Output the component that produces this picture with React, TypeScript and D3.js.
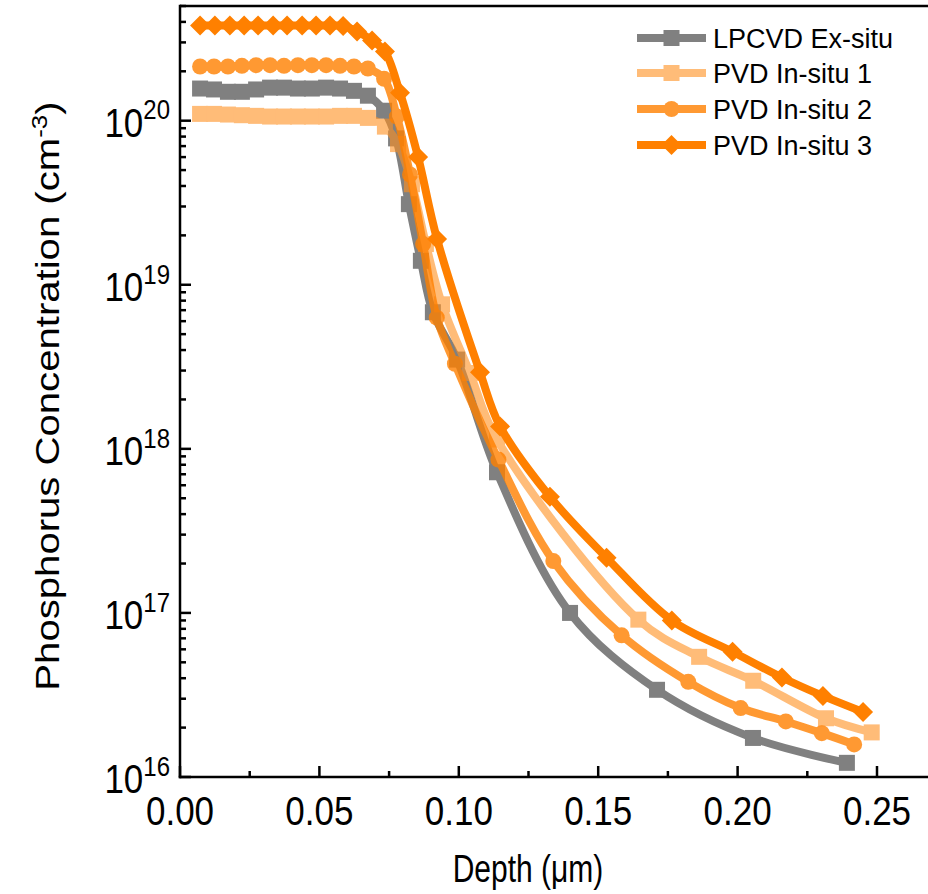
import React from 'react';
import * as d3 from 'd3';

// ---------- data (depth in µm, concentration in cm^-3) ----------
const lpcvdDepth = [0.0072, 0.0122, 0.0172, 0.0222, 0.0273, 0.0323, 0.0373, 0.0423, 0.0473, 0.0524, 0.0574, 0.0624, 0.0674, 0.0732, 0.0775, 0.0821, 0.0864, 0.0907, 0.0994, 0.1137, 0.1399, 0.1711, 0.2055, 0.2392];
const lpcvdConc = [1.57e20, 1.55e20, 1.5e20, 1.5e20, 1.55e20, 1.59e20, 1.59e20, 1.57e20, 1.57e20, 1.59e20, 1.57e20, 1.52e20, 1.42e20, 1.15e20, 7.8e19, 3.1e19, 1.4e19, 6.8e18, 3.5e18, 7.2e17, 1.0e17, 3.4e16, 1.73e16, 1.22e16];

const pvd1Depth = [0.0072, 0.0122, 0.0172, 0.0222, 0.0273, 0.0323, 0.0373, 0.0423, 0.0473, 0.0524, 0.0574, 0.0624, 0.0674, 0.0735, 0.0782, 0.0832, 0.0882, 0.094, 0.104, 0.1137, 0.1644, 0.1862, 0.2056, 0.2317, 0.2481];
const pvd1Conc = [1.1e20, 1.1e20, 1.09e20, 1.08e20, 1.07e20, 1.06e20, 1.06e20, 1.06e20, 1.06e20, 1.06e20, 1.07e20, 1.07e20, 1.04e20, 9.2e19, 7.2e19, 4.1e19, 1.77e19, 7.6e18, 2.9e18, 1.14e18, 9.1e16, 5.4e16, 3.86e16, 2.28e16, 1.87e16];

const pvd2Depth = [0.0072, 0.0122, 0.0172, 0.0222, 0.0273, 0.0323, 0.0373, 0.0423, 0.0473, 0.0524, 0.0574, 0.0624, 0.0674, 0.0732, 0.0778, 0.0825, 0.0872, 0.0921, 0.0986, 0.1142, 0.1339, 0.1584, 0.1823, 0.2011, 0.2173, 0.2302, 0.2418];
const pvd2Conc = [2.14e20, 2.14e20, 2.14e20, 2.16e20, 2.18e20, 2.18e20, 2.16e20, 2.18e20, 2.18e20, 2.18e20, 2.16e20, 2.14e20, 2.08e20, 1.8e20, 1.06e20, 4.7e19, 1.77e19, 6.3e18, 3.3e18, 8.6e17, 2.07e17, 7.3e16, 3.8e16, 2.63e16, 2.18e16, 1.85e16, 1.58e16];

const pvd3Depth = [0.0072, 0.0125, 0.0179, 0.023, 0.028, 0.0334, 0.0384, 0.0438, 0.0488, 0.0538, 0.0585, 0.0635, 0.0689, 0.0735, 0.0789, 0.0854, 0.0922, 0.1076, 0.1148, 0.1327, 0.153, 0.1764, 0.1982, 0.2159, 0.2306, 0.245];
const pvd3Conc = [3.8e20, 3.8e20, 3.8e20, 3.8e20, 3.8e20, 3.8e20, 3.8e20, 3.8e20, 3.8e20, 3.8e20, 3.78e20, 3.5e20, 3.08e20, 2.64e20, 1.48e20, 6.0e19, 1.9e19, 2.93e18, 1.37e18, 5.1e17, 2.17e17, 9.0e16, 5.8e16, 4.04e16, 3.12e16, 2.49e16];

const seriesNames = ['LPCVD Ex-situ', 'PVD In-situ 1', 'PVD In-situ 2', 'PVD In-situ 3'];
const xTickValues = [0, 0.05, 0.1, 0.15, 0.2, 0.25];
const xTickLabels = ['0.00', '0.05', '0.10', '0.15', '0.20', '0.25'];
const xMinorValues = [0.025, 0.075, 0.125, 0.175, 0.225];
const yExponents = [16, 17, 18, 19, 20];

// ---------- layout ----------
const W = 928;
const H = 894;
const LEFT = 180;
const BOTTOM = 777;
const TOP = 6;
const FONT = '"Liberation Sans", Arial, Helvetica, sans-serif';

const x = d3.scaleLinear().domain([0, 0.25]).range([LEFT, 877]);
const y = d3.scaleLog().domain([1e16, 5e20]).range([BOTTOM, TOP]);

type Marker = 'square' | 'circle' | 'diamond';
interface Series { name: string; depth: number[]; conc: number[]; color: string; opacity: number; marker: Marker; size: number; }

const series: Series[] = [
  { name: seriesNames[0], depth: lpcvdDepth, conc: lpcvdConc, color: '#808080', opacity: 1, marker: 'square', size: 16 },
  { name: seriesNames[1], depth: pvd1Depth, conc: pvd1Conc, color: '#FF9020', opacity: 0.6, marker: 'square', size: 16 },
  { name: seriesNames[2], depth: pvd2Depth, conc: pvd2Conc, color: '#FF8000', opacity: 0.8, marker: 'circle', size: 16 },
  { name: seriesNames[3], depth: pvd3Depth, conc: pvd3Conc, color: '#FF8000', opacity: 1, marker: 'diamond', size: 20 },
];

function markerEl(m: Marker, cx: number, cy: number, s: number, color: string, key: string) {
  if (m === 'circle') return <circle key={key} cx={cx} cy={cy} r={s / 2} fill={color} />;
  if (m === 'square') return <rect key={key} x={cx - s / 2} y={cy - s / 2} width={s} height={s} fill={color} />;
  const r = s / 2;
  return <path key={key} d={`M${cx},${cy - r}L${cx + r},${cy}L${cx},${cy + r}L${cx - r},${cy}Z`} fill={color} />;
}

const line = d3.line<[number, number]>()
  .x((d) => x(d[0]))
  .y((d) => y(d[1]))
  .curve(d3.curveCatmullRom.alpha(0.5));

export default function App() {
  const yMinor: number[] = [];
  yExponents.forEach((e) => {
    for (let m = 2; m <= 9; m++) {
      const v = m * Math.pow(10, e);
      if (v <= 5e20) yMinor.push(v);
    }
  });

  const legendX0 = 637;
  const legendX1 = 706;
  const legendRows = [38, 73, 109, 145];

  return (
    <svg width={W} height={H} viewBox={`0 0 ${W} ${H}`} style={{ display: 'block', position: 'absolute', left: 0, top: 0, background: '#fff' }}>
      <rect x={0} y={0} width={W} height={H} fill="#fff" />
      {/* series */}
      {series.map((s, i) => {
        const pts: [number, number][] = s.depth.map((d, j) => [d, s.conc[j]]);
        return (
          <g key={s.name} opacity={s.opacity}>
            <path d={line(pts) || ''} fill="none" stroke={s.color} strokeWidth={8} strokeLinejoin="round" strokeLinecap="butt" />
            {pts.map((p, j) => markerEl(s.marker, x(p[0]), y(p[1]), s.size, s.color, `${i}-${j}`))}
          </g>
        );
      })}

      {/* frame */}
      <g stroke="#000" strokeWidth={2.5} fill="none">
        <line x1={LEFT} y1={TOP} x2={W} y2={TOP} />
        <line x1={LEFT} y1={TOP - 1.25} x2={LEFT} y2={BOTTOM + 1.25} />
        <line x1={LEFT - 1.25} y1={BOTTOM} x2={W} y2={BOTTOM} />
        {xTickValues.map((v) => <line key={`xt${v}`} x1={x(v)} x2={x(v)} y1={BOTTOM} y2={BOTTOM - 11} />)}
        {xMinorValues.map((v) => <line key={`xm${v}`} x1={x(v)} x2={x(v)} y1={BOTTOM} y2={BOTTOM - 6} />)}
        {yExponents.map((e) => <line key={`yt${e}`} x1={LEFT} x2={LEFT + 11} y1={y(Math.pow(10, e))} y2={y(Math.pow(10, e))} />)}
        {yMinor.map((v) => <line key={`ym${v}`} x1={LEFT} x2={LEFT + 6} y1={y(v)} y2={y(v)} />)}
      </g>

      {/* x tick labels */}
      {xTickValues.map((v, i) => (
        <text key={`xl${v}`} transform={`translate(${x(v)},${825}) scale(1,1.15)`} textAnchor="middle" fontFamily={FONT} fontSize={35} fill="#000">
          {xTickLabels[i]}
        </text>
      ))}

      {/* y tick labels */}
      {yExponents.map((e) => (
        <text key={`yl${e}`} transform={`translate(${170},${y(Math.pow(10, e)) + 16}) scale(1,1.15)`} textAnchor="end" fontFamily={FONT} fontSize={35} fill="#000">
          <tspan>10</tspan>
          <tspan dy={-15} fontSize={24}>{String(e)}</tspan>
        </text>
      ))}

      {/* axis titles */}
      <text transform={`translate(${528},${882}) scale(1,1.3)`} textAnchor="middle" fontFamily={FONT} fontSize={30} fill="#000">
        Depth (μm)
      </text>
      <text transform={`translate(${59},${396}) scale(1,1.18) rotate(-90)`} textAnchor="middle" fontFamily={FONT} fontSize={34} fill="#000">
        <tspan>Phosphorus Concentration (cm</tspan>
        <tspan dy={-12} fontSize={22}>-3</tspan>
        <tspan dy={12}>)</tspan>
      </text>

      {/* legend */}
      {series.map((s, i) => {
        const cy = legendRows[i];
        return (
          <g key={`lg${i}`}>
            <g opacity={s.opacity}>
              <line x1={legendX0} x2={legendX1} y1={cy} y2={cy} stroke={s.color} strokeWidth={8} />
              {markerEl(s.marker, (legendX0 + legendX1) / 2, cy, s.size, s.color, `lm${i}`)}
            </g>
            <text x={713} y={cy + 10} fontFamily={FONT} fontSize={27} fill="#000">{s.name}</text>
          </g>
        );
      })}
    </svg>
  );
}
